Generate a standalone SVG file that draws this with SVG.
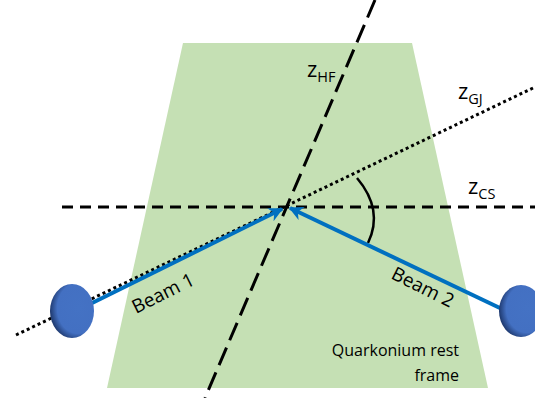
<svg xmlns="http://www.w3.org/2000/svg" width="535" height="398" viewBox="0 0 535 398">
<defs>
<style>
.lbl{font-family:"Open Sans","Liberation Sans",sans-serif;fill:#000;}
.beam{stroke:#0070C0;stroke-width:4;fill:none;}
</style>
<marker id="arr" viewBox="0 0 10 10" refX="9" refY="5" markerWidth="3.6" markerHeight="3.6" orient="auto" markerUnits="strokeWidth">
<path d="M0,0 L10,5 L0,10 L3,5 z" fill="#0070C0"/>
</marker>
<radialGradient id="ball" cx="0.62" cy="0.45" r="0.62" fx="0.66" fy="0.45">
<stop offset="0" stop-color="#4472C4"/>
<stop offset="0.75" stop-color="#4370C2"/>
<stop offset="1" stop-color="#1F3A70"/>
</radialGradient>
</defs>
<rect width="535" height="398" fill="#fff"/>
<g id="frame">
<polygon points="183,43 412,43 488,388 107,388" fill="#C5E0B4"/>
</g>
<g id="connectors">
<line x1="62" y1="207" x2="535" y2="207" stroke="#000" stroke-width="3" stroke-dasharray="11,7"/>
<line x1="375" y1="0" x2="205" y2="398" stroke="#000" stroke-width="3" stroke-dasharray="19,8"/>
<line x1="533" y1="88" x2="16" y2="335" stroke="#000" stroke-width="3" stroke-dasharray="3,3"/>
<path d="M357,178 Q384,210 368,243" fill="none" stroke="#000" stroke-width="2.5"/>
<line class="beam" x1="80" y1="309" x2="282" y2="209" marker-end="url(#arr)"/>
<line class="beam" x1="502" y1="309" x2="290" y2="208" marker-end="url(#arr)"/>
</g>
<g id="ball1"><ellipse cx="72" cy="311" rx="22" ry="27" fill="url(#ball)"/></g>
<g id="ball2"><ellipse cx="521" cy="311" rx="22" ry="26" fill="url(#ball)"/></g>
<g id="labels">
<text class="lbl" x="307" y="77" font-size="22">z<tspan font-size="14.5" dy="5">HF</tspan></text>
<text class="lbl" x="458" y="99" font-size="22">z<tspan font-size="14.5" dy="5">GJ</tspan></text>
<text class="lbl" x="468" y="194" font-size="22">z<tspan font-size="14.5" dy="5">CS</tspan></text>
<text class="lbl" font-size="19" text-anchor="middle" transform="translate(166,299) rotate(-26.5)">Beam 1</text>
<text class="lbl" font-size="19" text-anchor="middle" transform="translate(420,293) rotate(26.5)">Beam 2</text>
<text class="lbl" font-size="16" text-anchor="end" x="459" y="356">Quarkonium rest</text>
<text class="lbl" font-size="16" text-anchor="end" x="459" y="381">frame</text>
</g>
</svg>
